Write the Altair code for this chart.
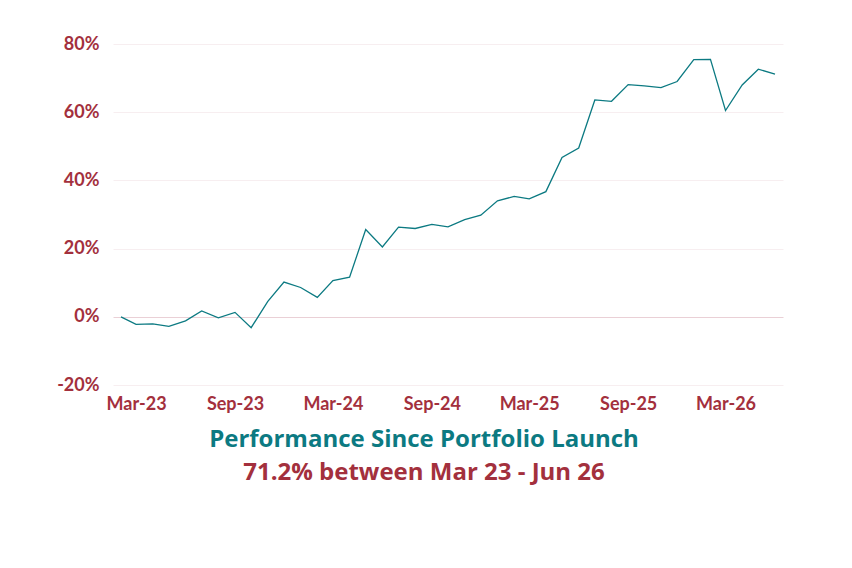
import altair as alt
import pandas as pd

months = pd.date_range("2023-02-01", "2026-06-01", freq="MS").strftime("%Y-%m-%dT00:00:00").tolist()
returns = [0.0, -2.2, -2.1, -2.8, -1.2, 1.7, -0.3, 1.3, -3.2, 4.5,
           10.2, 8.6, 5.7, 10.6, 11.6, 25.6, 20.5, 26.3, 25.9, 27.1,
           26.4, 28.5, 29.8, 34.0, 35.3, 34.6, 36.7, 46.7, 49.5, 63.6,
           63.2, 68.1, 67.7, 67.2, 69.0, 75.4, 75.5, 60.5, 68.0, 72.6,
           71.2]
y_ticks = [-20, 0, 20, 40, 60, 80]
x_tick_months = [(2023, 3), (2023, 9), (2024, 3), (2024, 9), (2025, 3), (2025, 9), (2026, 3)]

df = pd.DataFrame({"date": months, "ret": returns})

RED = "#a3303d"
TEAL = "#0c7a82"

chart = alt.Chart(df).mark_line(color=TEAL, strokeWidth=1.3).encode(
    x=alt.X("date:T",
            scale=alt.Scale(padding=8, nice=False),
            axis=alt.Axis(values=[alt.DateTime(year=y, month=m, date=1) for y, m in x_tick_months],
                          format="%b-%y", title=None, grid=False, domain=False,
                          ticks=False, tickSize=0, labelPadding=10,
                          labelFont="Lato", labelFontSize=18, labelFontWeight="bold",
                          labelColor=RED)),
    y=alt.Y("ret:Q",
            scale=alt.Scale(domain=[-20, 80], nice=False),
            axis=alt.Axis(values=y_ticks, labelExpr="datum.value + '%'", title=None,
                          domain=False, ticks=False, tickSize=0, labelPadding=14,
                          labelFont="Lato", labelFontSize=18, labelFontWeight="bold",
                          labelColor=RED,
                          gridColor={"condition": {"test": "datum.value === 0", "value": "#ead0d6"},
                                     "value": "#f7eef0"},
                          gridWidth=1)),
).properties(
    width=670,
    height=341,
    padding={"left": 105, "top": 36, "right": 50, "bottom": 150},
    autosize=alt.AutoSizeParams(type="none"),
    title=alt.TitleParams(
        text="Performance Since Portfolio Launch",
        subtitle="71.2% between Mar 23 - Jun 26",
        orient="bottom", anchor="middle", dx=-24, offset=15,
        font="Open Sans", fontSize=24, fontWeight="bold", color=TEAL,
        subtitleFont="Open Sans", subtitleFontSize=24, subtitleFontWeight="bold",
        subtitleColor=RED, subtitlePadding=9,
    ),
).configure_view(stroke=None)

chart.save("out.html", embed_options={"renderer": "svg", "actions": False})
